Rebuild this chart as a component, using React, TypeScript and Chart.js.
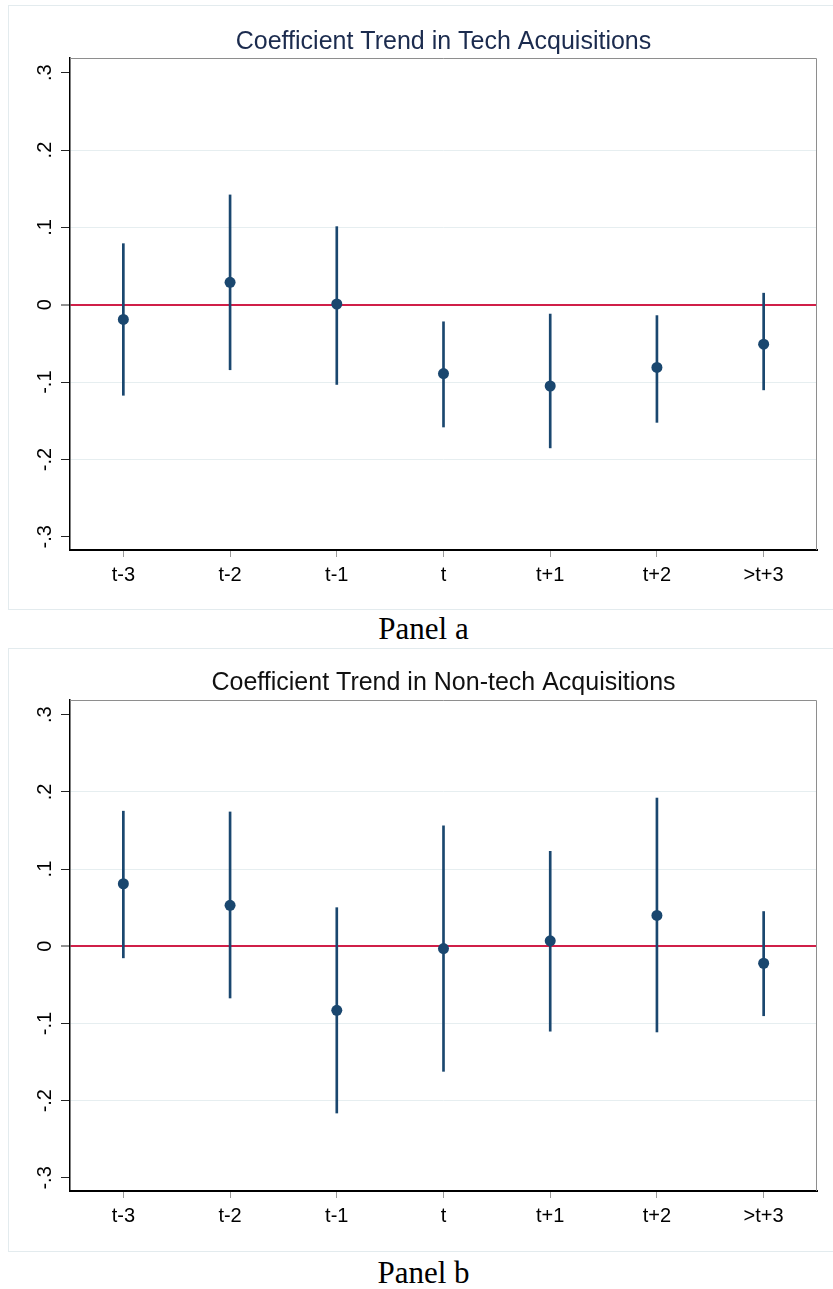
import React, { useEffect, useRef } from "react";
import { Chart, registerables } from "chart.js";

Chart.register(...registerables);

// ---------- data ----------
const categories = ["t-3", "t-2", "t-1", "t", "t+1", "t+2", ">t+3"];
const yTickValues = [-0.3, -0.2, -0.1, 0, 0.1, 0.2, 0.3];
const yTickLabels = ["-.3", "-.2", "-.1", "0", ".1", ".2", ".3"];

const techCoef = [-0.019, 0.029, 0.001, -0.089, -0.105, -0.081, -0.051];
const techLower = [-0.117, -0.084, -0.103, -0.158, -0.185, -0.152, -0.11];
const techUpper = [0.079, 0.142, 0.101, -0.022, -0.012, -0.014, 0.015];

const nonTechCoef = [0.081, 0.053, -0.083, -0.003, 0.007, 0.04, -0.022];
const nonTechLower = [-0.015, -0.067, -0.216, -0.162, -0.11, -0.111, -0.09];
const nonTechUpper = [0.175, 0.174, 0.05, 0.156, 0.123, 0.192, 0.045];

const NAVY = "#1a476f";
const RED = "#d01f48";
const GRID = "#e6eef0";
const SANS = "'Liberation Sans', Arial, sans-serif";

const plotFrame = {
  id: "plotFrame",
  beforeDatasetsDraw(chart: any) {
    const { ctx, chartArea } = chart;
    const { left, right, top, bottom } = chartArea;
    ctx.save();
    ctx.strokeStyle = "#8e8e8e";
    ctx.lineWidth = 1;
    ctx.beginPath();
    ctx.moveTo(left, top + 0.5);
    ctx.lineTo(right - 0.5, top + 0.5);
    ctx.lineTo(right - 0.5, bottom);
    ctx.stroke();
    ctx.restore();
  },
};

type PanelProps = {
  title: string;
  titleColor: string;
  coef: number[];
  lower: number[];
  upper: number[];
  width: number;
  height: number;
  titlePadTop: number;
  titlePadBottom: number;
  xHeight: number;
};

function Panel(p: PanelProps) {
  const ref = useRef<HTMLCanvasElement | null>(null);
  useEffect(() => {
    if (!ref.current) return;
    const chart = new Chart(ref.current, {
      type: "bar",
      data: {
        labels: categories,
        datasets: [
          {
            type: "line",
            data: p.coef,
            showLine: false,
            pointRadius: 5.5,
            pointHoverRadius: 5.5,
            pointBackgroundColor: NAVY,
            pointBorderColor: NAVY,
            pointBorderWidth: 0,
            order: 0,
          } as any,
          {
            type: "bar",
            data: p.lower.map((l, i) => [l, p.upper[i]]),
            backgroundColor: NAVY,
            borderWidth: 0,
            barThickness: 2,
            order: 1,
          } as any,
        ],
      },
      options: {
        responsive: false,
        animation: false,
        events: [],
        layout: { padding: { left: 0, right: 16, top: 0, bottom: 0 } },
        plugins: {
          legend: { display: false },
          tooltip: { enabled: false },
          title: {
            display: true,
            fullSize: false,
            text: p.title,
            color: p.titleColor,
            font: { family: SANS, size: 25, weight: "normal", lineHeight: 1.2 },
            padding: { top: p.titlePadTop, bottom: p.titlePadBottom },
          },
        },
        scales: {
          x: {
            type: "category",
            offset: true,
            grid: {
              display: true,
              offset: false,
              drawOnChartArea: false,
              drawTicks: true,
              tickLength: 7,
              tickColor: "#9a9a9a",
              tickWidth: 1,
            },
            border: { display: true, color: "#000", width: 2 },
            ticks: {
              color: "#000",
              font: { family: SANS, size: 20, lineHeight: 1.2 },
              padding: 6,
              minRotation: 0,
              maxRotation: 0,
              autoSkip: false,
            },
            afterFit: (s: any) => {
              s.height = p.xHeight;
            },
          },
          y: {
            type: "linear",
            min: -0.317,
            max: 0.319,
            afterBuildTicks: (s: any) => {
              s.ticks = yTickValues.map((v) => ({ value: v }));
            },
            grid: {
              color: (ctx: any) => {
                const v = ctx.tick ? ctx.tick.value : null;
                if (v === 0) return RED;
                if (v === 0.3 || v === -0.3) return "rgba(0,0,0,0)";
                return GRID;
              },
              lineWidth: (ctx: any) => (ctx.tick && ctx.tick.value === 0 ? 2 : 1),
              drawTicks: true,
              tickLength: 9,
              tickColor: "#222",
              tickWidth: 1,
            },
            border: { display: true, color: "#000", width: 1.5 },
            ticks: {
              color: "#000",
              font: { family: SANS, size: 20, lineHeight: 1.2 },
              minRotation: 90,
              maxRotation: 90,
              crossAlign: "center",
              padding: 4,
              callback: (_v: any, i: number) => yTickLabels[i],
            },
            afterFit: (s: any) => {
              s.width = 62;
            },
          },
        },
      } as any,
      plugins: [plotFrame],
    });
    return () => chart.destroy();
  }, []);
  return <canvas ref={ref} width={p.width} height={p.height} style={{ display: "block" }} />;
}

const frameStyle = (top: number, height: number): React.CSSProperties => ({
  position: "absolute",
  left: 8,
  top,
  width: 825,
  height,
  boxSizing: "border-box",
  border: "1px solid #e3ebee",
  borderRight: "none",
});

const captionStyle = (top: number): React.CSSProperties => ({
  position: "absolute",
  left: 8,
  top,
  width: 831,
  textAlign: "center",
  fontFamily: "'Liberation Serif', 'Times New Roman', serif",
  fontSize: 31,
  lineHeight: "31px",
  color: "#000",
});

export default function App() {
  return (
    <div
      style={{
        position: "absolute",
        left: 0,
        top: 0,
        width: 833,
        height: 1289,
        overflow: "hidden",
        background: "#fff",
      }}
    >
      <div style={frameStyle(5, 605)} />
      <div style={{ position: "absolute", left: 8, top: 5 }}>
        <Panel
          title="Coefficient Trend in Tech Acquisitions"
          titleColor="#1b2b4e"
          coef={techCoef}
          lower={techLower}
          upper={techUpper}
          width={825}
          height={605}
          titlePadTop={22}
          titlePadBottom={1}
          xHeight={60}
        />
      </div>
      <div style={captionStyle(613)}>Panel a</div>

      <div style={frameStyle(648, 604)} />
      <div style={{ position: "absolute", left: 8, top: 648 }}>
        <Panel
          title="Coefficient Trend in Non-tech Acquisitions"
          titleColor="#111111"
          coef={nonTechCoef}
          lower={nonTechLower}
          upper={nonTechUpper}
          width={825}
          height={604}
          titlePadTop={20}
          titlePadBottom={2}
          xHeight={61}
        />
      </div>
      <div style={captionStyle(1257)}>Panel b</div>
    </div>
  );
}
